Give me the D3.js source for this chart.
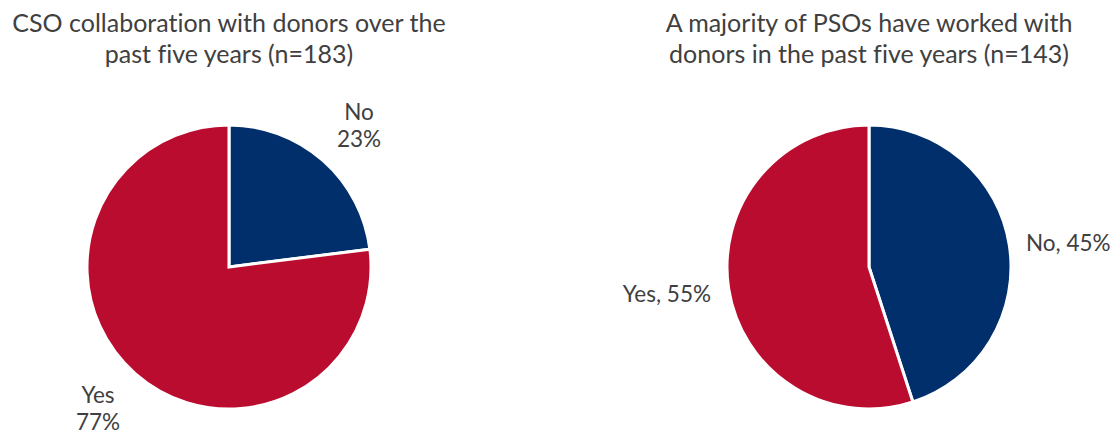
<!DOCTYPE html>
<html>
<head>
<meta charset="utf-8">
<script src="https://cdn.jsdelivr.net/npm/d3@7"></script>
<style>
  html, body { margin: 0; padding: 0; background: #fff; }
  svg text {
    font-family: "Gill Sans", "Gill Sans MT", Lato, "Open Sans", sans-serif;
    fill: #404040;
    font-variant-ligatures: none;
  }
</style>
</head>
<body>
<svg id="chart" width="1113" height="436"></svg>
<script>
// Pie data, one array per chart
const csoCategories = ["No", "Yes"];
const csoValues = [23, 77];
const csoTitle = ["CSO collaboration with donors over the", "past five years (n=183)"];

const psoCategories = ["No", "Yes"];
const psoValues = [45, 55];
const psoTitle = ["A majority of PSOs have worked with", "donors in the past five years (n=143)"];

const colors = d3.scaleOrdinal().domain(["No", "Yes"]).range(["#002F6C", "#BA0C2F"]);

const svg = d3.select("#chart");
const radius = 142;

function drawPie(cx, cy, categories, values, title, labelFn) {
  const g = svg.append("g").attr("transform", `translate(${cx},${cy})`);
  const data = categories.map((c, i) => ({ cat: c, value: values[i] }));
  const pie = d3.pie().value(d => d.value).sort(null);
  const arc = d3.arc().innerRadius(0).outerRadius(radius);
  const arcs = pie(data);

  g.selectAll("path").data(arcs).join("path")
    .attr("d", arc)
    .attr("fill", d => colors(d.data.cat))
    .attr("stroke", "#fff")
    .attr("stroke-width", 3)
    .attr("stroke-linejoin", "miter");

  const t = svg.append("text").attr("text-anchor", "middle").style("font-size", "25px");
  title.forEach((line, i) => {
    t.append("tspan").attr("x", cx).attr("y", 32 + i * 31).text(line);
  });

  labelFn(g, arcs);
}

// Left chart: two-line labels outside the pie
drawPie(229, 267, csoCategories, csoValues, csoTitle, (g, arcs) => {
  arcs.forEach(a => {
    const t = g.append("text").attr("text-anchor", "middle").style("font-size", "22.5px");
    const pos = a.data.cat === "No" ? [130, -147] : [-131, 136];
    t.append("tspan").attr("x", pos[0]).attr("y", pos[1]).text(a.data.cat);
    t.append("tspan").attr("x", pos[0]).attr("y", pos[1] + 27).text(a.data.value + "%");
  });
});

// Right chart: single-line labels beside the pie
drawPie(869, 267, psoCategories, psoValues, psoTitle, (g, arcs) => {
  arcs.forEach(a => {
    const txt = `${a.data.cat}, ${a.data.value}%`;
    if (a.data.cat === "No") {
      g.append("text").attr("x", 157).attr("y", -16).attr("text-anchor", "start")
        .style("font-size", "22.5px").text(txt);
    } else {
      g.append("text").attr("x", -158).attr("y", 35).attr("text-anchor", "end")
        .style("font-size", "22.5px").text(txt);
    }
  });
});
</script>
</body>
</html>
